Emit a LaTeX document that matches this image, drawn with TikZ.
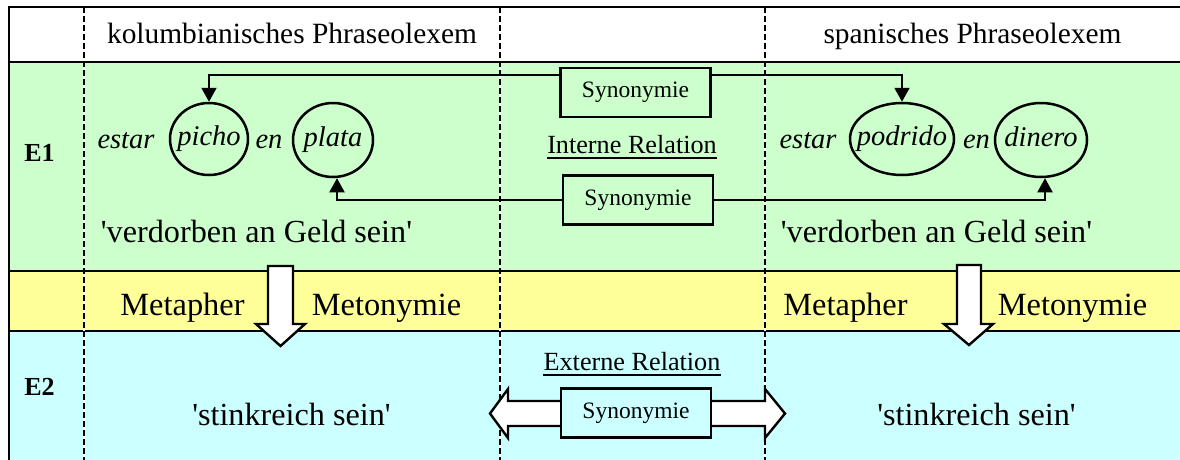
\documentclass[tikz,border=0pt]{standalone}
\usepackage{fontspec}
\setmainfont{Liberation Serif}
\usetikzlibrary{arrows.meta,shapes.geometric}
\definecolor{rowgreen}{HTML}{CCFFCC}
\definecolor{rowyellow}{HTML}{FFFF99}
\definecolor{rowcyan}{HTML}{CCFFFF}
\newcommand{\fsz}[1]{\fontsize{#1}{#1}\selectfont}
\newcommand{\sq}{\textquotesingle}

\begin{document}
\begin{tikzpicture}[x=1pt,y=-1pt,
  rule/.style={line width=2.6pt},
  sepline/.style={line width=1.8pt, dash pattern=on 6pt off 3pt},
  sepback/.style={line width=1.8pt, white},
  head/.style={font=\fsz{29.4}, anchor=base, inner sep=0pt},
  gloss/.style={font=\fsz{32.2}, anchor=base, inner sep=0pt},
  figure/.style={font=\fsz{32.4}, anchor=base, inner sep=0pt},
  rowlabel/.style={font=\fsz{26}\bfseries, anchor=base, inner sep=0pt},
  word/.style={font=\fsz{28.5}\itshape, anchor=base, inner sep=0pt},
  oval/.style={ellipse, draw, line width=2.5pt, inner sep=0pt,
    text height=19pt, text depth=6pt, font=\fsz{28.5}\itshape},
  relbox/.style={draw, line width=2.8pt, minimum width=150pt,
    minimum height=49pt, inner sep=0pt, font=\fsz{23.5}},
  reltitle/.style={font=\fsz{26.2}, anchor=base, inner sep=0pt},
  link/.style={line width=2pt, -{Triangle[length=14pt,width=15pt]}},
  block/.style={draw, line width=2.4pt, fill=white, line join=miter},
]
\useasboundingbox (0,0) rectangle (1180,459);
\clip (0,0) rectangle (1180,459);

% row backgrounds
\fill[white] (9,7) rectangle (1190,62);
\fill[rowgreen] (9,62) rectangle (1190,271);
\fill[rowyellow] (9,271) rectangle (1190,331);
\fill[rowcyan] (9,331) rectangle (1190,470);

% table rules
\draw[rule] (9,7) -- (1190,7);
\draw[rule] (9,5.7) -- (9,470);
\draw[rule] (9,62) -- (1190,62);
\draw[rule] (9,271) -- (1190,271);
\draw[rule] (9,331) -- (1190,331);

% dashed column separators
\foreach \cx in {84,500,765} {
  \draw[sepback] (\cx,7) -- (\cx,470);
  \draw[sepline] (\cx,7) -- (\cx,470);
}

% block arrows: Metapher / Metonymie
\draw[block] (268,266) -- (293,266) -- (293,324) -- (305,324) -- (280.5,346)
  -- (256,324) -- (268,324) -- cycle;
\draw[block] (957,265) -- (981,265) -- (981,324) -- (993,324) -- (969,345)
  -- (944,324) -- (957,324) -- cycle;
% double block arrow: external relation
\draw[block] (490,413.5) -- (508,389) -- (508,401) -- (765,401) -- (765,389)
  -- (785,413.5) -- (765,438) -- (765,426) -- (508,426) -- (508,438) -- cycle;

% column headers
\node[head] (hcol) at (292,43) {kolumbianisches Phraseolexem};
\node[head] (hspa) at (972.5,43) {spanisches Phraseolexem};

% row labels
\node[rowlabel] (e1) at (39.5,161) {E1};
\node[rowlabel] (e2) at (39.5,395) {E2};

% Colombian phraseolexeme
\node[word] (estL) at (126,148) {estar};
\node[oval, minimum width=78pt, minimum height=72pt] (picho) at (209,139) {\makebox[0pt]{picho}};
\node[word] (enL) at (269,148) {en};
\node[oval, minimum width=80pt, minimum height=74pt] (plata) at (333,140) {\makebox[0pt]{plata}};

% Spanish phraseolexeme
\node[word] (estR) at (808,148) {estar};
\node[oval, minimum width=104pt, minimum height=72pt] (podrido) at (902,139) {\makebox[0pt]{podrido}};
\node[word] (enR) at (976.5,148) {en};
\node[oval, minimum width=92pt, minimum height=74pt] (dinero) at (1041,140) {\makebox[0pt]{dinero}};

% glosses
\node[gloss] (glL) at (256.5,242) {\sq verdorben an Geld sein\sq};
\node[gloss] (glR) at (936.5,242) {\sq verdorben an Geld sein\sq};
\node[figure] (metaL) at (182.5,315) {Metapher};
\node[figure] (metoL) at (386.5,315) {Metonymie};
\node[figure] (metaR) at (845.5,315) {Metapher};
\node[figure] (metoR) at (1072.5,315) {Metonymie};
\node[gloss] (stL) at (291.5,425) {\sq stinkreich sein\sq};
\node[gloss] (stR) at (976.5,425) {\sq stinkreich sein\sq};

% relation titles
\node[reltitle] (intern) at (632,153) {Interne Relation};
\draw[line width=1.6pt] ([yshift=-5pt]intern.base west) -- ([yshift=-5pt]intern.base east);
\node[reltitle] (extern) at (632,370) {Externe Relation};
\draw[line width=1.6pt] ([yshift=-5pt]extern.base west) -- ([yshift=-5pt]extern.base east);

% relation boxes
\node[relbox, fill=rowgreen] (syn1) at (635.5,92.5) {Synonymie};
\node[relbox, fill=rowgreen] (syn2) at (638,200) {Synonymie};
\node[relbox, fill=rowcyan] (syn3) at (636,413) {Synonymie};

% synonymy links
\draw[link] (syn1.north west) ++(0,8) -| (picho.north);
\draw[link] (syn1.north east) ++(0,8) -| (podrido.north);
\draw[link] (syn2.west) -| ([xshift=4pt]plata.south);
\draw[link] (syn2.east) -| ([xshift=4pt]dinero.south);
\end{tikzpicture}
\end{document}
